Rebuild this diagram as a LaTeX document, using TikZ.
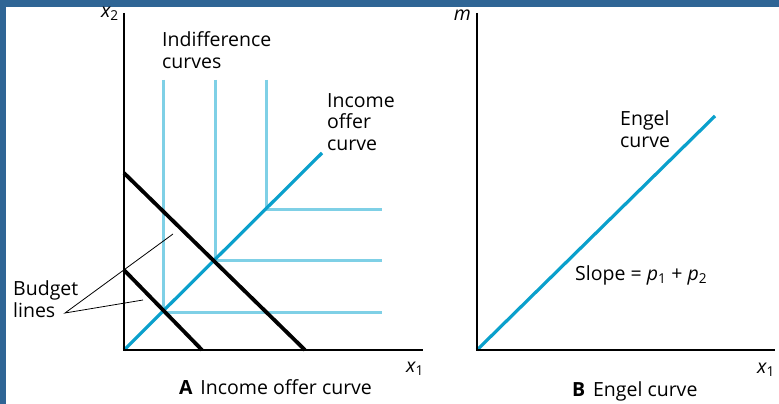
\documentclass[tikz,border=0pt]{standalone}
\usepackage{fontspec}
\setmainfont{Open Sans}
\definecolor{frameblue}{HTML}{2F6595}
\definecolor{icblue}{HTML}{7FD0E6}
\definecolor{ocblue}{HTML}{0AA0CC}
\begin{document}
\begin{tikzpicture}[x=1pt,y=-1pt,
  axis/.style={line width=2.5pt,black},
  budget/.style={line width=3.8pt,black},
  icurve/.style={line width=3pt,icblue},
  ocurve/.style={line width=3.2pt,ocblue},
  leader/.style={line width=0.8pt,black},
  lbl/.style={font=\fontsize{19.5}{21.5}\selectfont,inner sep=0pt,align=left,anchor=base west},
  captext/.style={font=\fontsize{19.5}{21.5}\selectfont,inner sep=0pt,anchor=base west},
  var/.style={font=\fontsize{19.5}{21.5}\selectfont\itshape,inner sep=0pt}]
\useasboundingbox (0,0) rectangle (779,404);
\fill[white] (0,0) rectangle (779,404);
\fill[frameblue] (0,0) rectangle (779,7);
\fill[frameblue] (0,0) rectangle (6,404);

% ---------- Panel A ----------
\coordinate (Ao) at (124,350);
\coordinate (Ay) at (124,13);
\coordinate (Ax) at (423,350);
% indifference curves
\coordinate (c1) at (163,312);
\coordinate (c2) at (215,260);
\coordinate (c3) at (266,209);
\coordinate (c1t) at (163,80);
\coordinate (c2t) at (215,80);
\coordinate (c3t) at (266,80);
\coordinate (c1r) at (382,312);
\coordinate (c2r) at (382,260);
\coordinate (c3r) at (382,209);
\draw[icurve] (c1t) -- (c1) -- (c1r);
\draw[icurve] (c2t) -- (c2) -- (c2r);
\draw[icurve] (c3t) -- (c3) -- (c3r);
% income offer curve
\coordinate (oe) at (322,153);
\draw[ocurve] (Ao) -- (oe);
% budget lines
\coordinate (b1t) at (124,270);
\coordinate (b1b) at (202,350);
\coordinate (b2t) at (124,173);
\coordinate (b2b) at (305,350);
\draw[budget] (b1t) -- (b1b);
\draw[budget] (b2t) -- (b2b);
% axes
\draw[axis] (Ay) -- (Ao) -- (Ax);
% labels (base = baseline of last line)
\node[var,anchor=east] (x2) at (119,14) {x\textsubscript{\upshape 2}};
\node[var,anchor=north west] (x1a) at (406,362) {x\textsubscript{\upshape 1}};
\node[lbl] (ind) at (162,68) {Indifference\\curves};
\node[lbl] (ioc) at (327,150) {Income\\offer\\curve};
\node[lbl] (bud) at (13,317) {Budget\\lines};
\coordinate (lf) at (65,313);
\coordinate (l1) at (173,234);
\coordinate (l2) at (143,300);
\draw[leader] (l1) -- (lf) -- (l2);
\node[captext] (capA) at (179,394) {\textbf{A}\hspace{0.4em}Income offer curve};

% ---------- Panel B ----------
\coordinate (Bo) at (477,350);
\coordinate (By) at (477,13);
\coordinate (Bx) at (775,350);
\coordinate (ee) at (715,116);
\draw[ocurve] (Bo) -- (ee);
\draw[axis] (By) -- (Bo) -- (Bx);
\node[var,anchor=east] (m) at (471,15) {m};
\node[var,anchor=north west] (x1b) at (757,363) {x\textsubscript{\upshape 1}};
\node[lbl] (eng) at (620,147) {Engel\\curve};
\node[captext] (slope) at (575,280) {Slope = \textit{p}\textsubscript{1} + \textit{p}\textsubscript{2}};
\node[captext] (capB) at (572,396) {\textbf{B}\hspace{0.4em}Engel curve};
\end{tikzpicture}
\end{document}
